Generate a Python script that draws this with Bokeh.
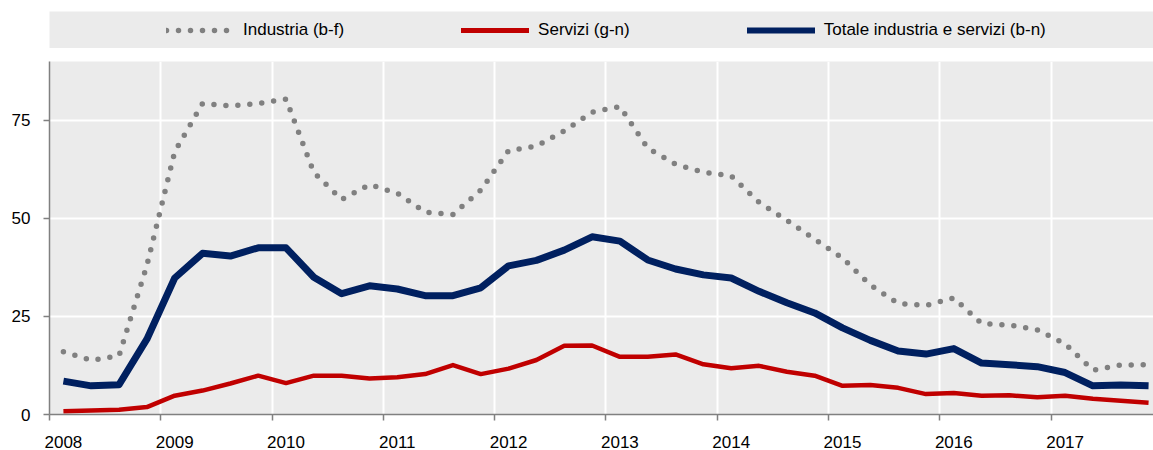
from bokeh.plotting import figure
from bokeh.models import FixedTicker, Legend, LegendItem, Range1d, NumeralTickFormatter
from bokeh.layouts import column
from bokeh.embed import file_html
from bokeh.resources import INLINE

# ---- data (quarterly, 2008Q1 .. 2017Q4) ----
years = list(range(2008, 2018))
quarters = [1, 2, 3, 4]
industria = [16.0, 13.8, 15.0, 38.0, 67.0, 79.3, 78.7, 79.3,
             80.4, 61.7, 54.8, 58.6, 56.4, 51.6, 51.0, 57.2,
             67.3, 68.4, 72.3, 77.1, 78.5, 67.9, 63.8, 61.8,
             60.8, 54.1, 49.5, 44.7, 39.9, 33.0, 28.3, 27.8,
             29.7, 23.2, 22.8, 21.6, 18.0, 11.3, 12.6, 12.7]
servizi = [0.8, 1.0, 1.2, 1.9, 4.8, 6.1, 7.9, 9.9,
           8.0, 9.9, 9.9, 9.2, 9.5, 10.3, 12.6, 10.3,
           11.7, 13.9, 17.5, 17.6, 14.7, 14.7, 15.3, 12.8,
           11.8, 12.4, 10.9, 9.9, 7.3, 7.5, 6.8, 5.2,
           5.5, 4.8, 4.9, 4.4, 4.8, 4.0, 3.5, 3.0]
totale = [8.5, 7.3, 7.6, 19.2, 34.8, 41.1, 40.4, 42.5,
          42.5, 35.0, 30.8, 32.8, 32.0, 30.3, 30.3, 32.3,
          37.9, 39.3, 41.9, 45.3, 44.2, 39.4, 37.1, 35.6,
          34.8, 31.4, 28.5, 25.9, 22.1, 18.9, 16.2, 15.4,
          16.8, 13.1, 12.7, 12.2, 10.7, 7.3, 7.5, 7.3]
labels = ["Industria (b-f)", "Servizi (g-n)", "Totale industria e servizi (b-n)"]
y_ticks = [0, 25, 50, 75]

x = [y + (q - 0.5) / 4 for y in years for q in quarters]

FONT = "Liberation Sans"
GRAY = "#808080"
BG = "#EBEBEB"
C_IND = "#808080"
C_SER = "#C00000"
C_TOT = "#002060"

# ---- main plot ----
p = figure(width=1153, height=402,
           x_range=Range1d(2008, 2008 + 1106 / 111.5), y_range=Range1d(0, 90),
           output_backend="svg", toolbar_location=None,
           min_border_left=47, min_border_right=0, min_border_top=13, min_border_bottom=34)
p.background_fill_color = BG
p.border_fill_color = "white"
p.outline_line_color = None

p.xgrid.ticker = FixedTicker(ticks=years)
p.ygrid.ticker = FixedTicker(ticks=y_ticks)
p.xgrid.grid_line_color = "white"
p.ygrid.grid_line_color = "white"
p.xgrid.grid_line_width = 2
p.ygrid.grid_line_width = 2

xa = p.xaxis[0]
xa.ticker = FixedTicker(ticks=[y + 0.125 for y in years], minor_ticks=years)
xa.formatter = NumeralTickFormatter(format="0")
xa.major_tick_line_color = None
xa.major_tick_out = 0
xa.major_tick_in = 0
xa.minor_tick_out = 6
xa.minor_tick_in = 0
xa.minor_tick_line_color = GRAY
xa.minor_tick_line_width = 1.5
xa.axis_line_color = GRAY
xa.axis_line_width = 1.5
xa.major_label_standoff = 15
xa.major_label_text_font = FONT
xa.major_label_text_font_size = "17px"
xa.major_label_text_color = "black"

ya = p.yaxis[0]
ya.ticker = FixedTicker(ticks=y_ticks)
ya.major_tick_out = 6
ya.major_tick_in = 0
ya.minor_tick_line_color = None
ya.major_tick_line_color = GRAY
ya.major_tick_line_width = 1.5
ya.axis_line_color = GRAY
ya.axis_line_width = 1.5
ya.major_label_standoff = 13
ya.major_label_text_font = FONT
ya.major_label_text_font_size = "17px"
ya.major_label_text_color = "black"

p.line(x, industria, line_color=C_IND, line_width=5.5, line_dash="0 12", line_cap="round")
p.line(x, servizi, line_color=C_SER, line_width=4.5, line_join="round")
p.line(x, totale, line_color=C_TOT, line_width=7, line_join="round")

# ---- legend band (same series, plotted outside the band's visible range) ----
pl = figure(width=1153, height=48, x_range=Range1d(0, 1), y_range=Range1d(0, 1),
            output_backend="svg", toolbar_location=None,
            min_border_left=49, min_border_right=0, min_border_top=11, min_border_bottom=0)
pl.axis.visible = False
pl.grid.visible = False
pl.background_fill_color = BG
pl.border_fill_color = "white"
pl.outline_line_color = None
r1 = pl.line(x, industria, line_color=C_IND, line_width=5.5, line_dash="0 12", line_cap="round")
r2 = pl.line(x, servizi, line_color=C_SER, line_width=5, line_cap="round")
r3 = pl.line(x, totale, line_color=C_TOT, line_width=6, line_cap="round")
leg = Legend(items=[LegendItem(label=labels[0], renderers=[r1]),
                    LegendItem(label=labels[1], renderers=[r2]),
                    LegendItem(label=labels[2], renderers=[r3])],
             location=(117, 8), orientation="horizontal",
             padding=0, margin=0, spacing=117,
             glyph_width=68, glyph_height=20, label_height=20, label_standoff=9,
             label_text_font=FONT, label_text_font_size="17px", label_text_color="black",
             background_fill_alpha=0, border_line_color=None)
pl.add_layout(leg, "center")

layout = column(pl, p)
open("out.html", "w").write(file_html(layout, INLINE))
